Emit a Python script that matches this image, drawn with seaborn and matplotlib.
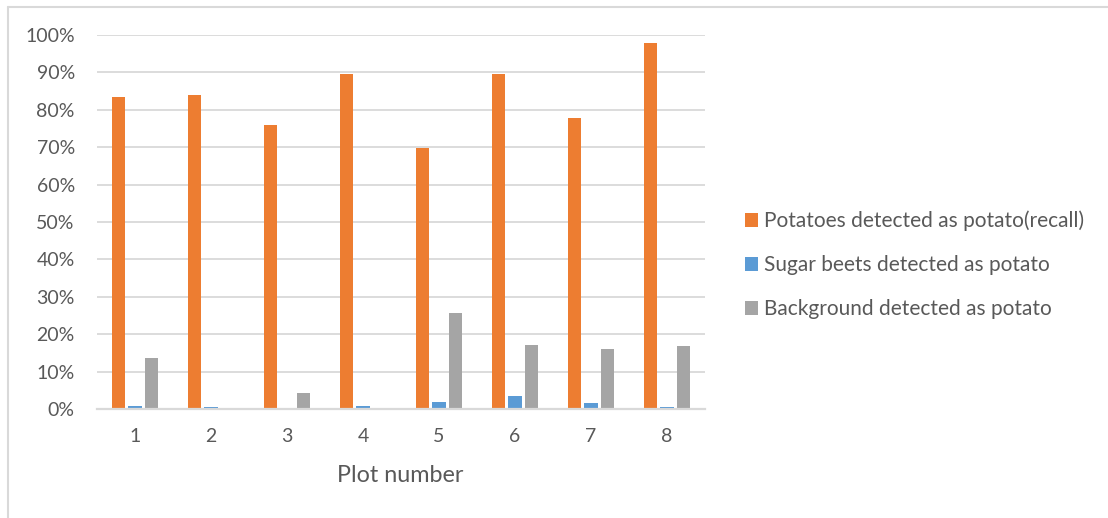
import matplotlib
matplotlib.use("Agg")
import matplotlib.pyplot as plt
import matplotlib.lines as mlines
import seaborn as sns
import pandas as pd

plots = ["1", "2", "3", "4", "5", "6", "7", "8"]
series_names = [
    "Potatoes detected as potato(recall)",
    "Sugar beets detected as potato",
    "Background detected as potato",
]
recall = [83.3, 83.9, 75.9, 89.7, 69.8, 89.6, 77.8, 97.9]
beets = [0.7, 0.6, 0.3, 0.8, 1.9, 3.4, 1.6, 0.5]
background = [13.7, 0.0, 4.3, 0.0, 25.8, 17.0, 16.0, 16.9]
colors = ["#ED7D31", "#5B9BD5", "#A5A5A5"]

rows = []
for name, vals in zip(series_names, [recall, beets, background]):
    for p, v in zip(plots, vals):
        rows.append({"Plot number": p, "series": name, "value": v / 100})
df = pd.DataFrame(rows)

sns.set_theme(style="white")
plt.rcParams["font.family"] = ["Lato", "DejaVu Sans"]
text_color = "#595959"
grid_color = "#D9D9D9"

fig = plt.figure(figsize=(11.08, 5.18), dpi=100)
ax = fig.add_axes([97 / 1108, 1 - 409 / 518, 608 / 1108, 374 / 518])

sns.barplot(
    data=df, x="Plot number", y="value", hue="series",
    order=plots, hue_order=series_names, palette=colors,
    width=0.66, gap=0.2, saturation=1, errorbar=None,
    linewidth=0, ax=ax,
)

ax.set_ylim(0, 1)
ax.set_yticks([i / 10 for i in range(11)])
ax.set_yticklabels([f"{i * 10}%" for i in range(11)])
ax.set_xlim(-0.5, len(plots) - 0.5)
ax.yaxis.grid(True, color=grid_color, linewidth=1.3)
ax.set_axisbelow(True)
for side in ["top", "right", "left"]:
    ax.spines[side].set_visible(False)
ax.spines["bottom"].set_color(grid_color)
ax.spines["bottom"].set_linewidth(1.6)
ax.tick_params(axis="both", length=0, labelsize=14, colors=text_color)
ax.tick_params(axis="y", pad=16)
ax.tick_params(axis="x", pad=14)

ax.set_ylabel("")
ax.set_xlabel("Plot number", fontsize=16.8, color=text_color)
ax.xaxis.label.set_va("center")
ax.xaxis.set_label_coords((400 - 97) / 608, (409 - 476) / 374)

handles, labels = ax.get_legend_handles_labels()
ax.legend(
    handles, labels, loc="center left",
    bbox_to_anchor=(745 / 1108, 1 - 265 / 518), bbox_transform=fig.transFigure,
    frameon=False, fontsize=15, labelcolor=text_color,
    handlelength=0.6, handleheight=0.6, handletextpad=0.3,
    labelspacing=1.15, borderpad=0, borderaxespad=0,
)

# chart border (top and left edges)
fig.add_artist(mlines.Line2D([8 / 1108, 1], [1 - 7 / 518, 1 - 7 / 518],
                             transform=fig.transFigure, color=grid_color, linewidth=1.5))
fig.add_artist(mlines.Line2D([8 / 1108, 8 / 1108], [0, 1 - 7 / 518],
                             transform=fig.transFigure, color=grid_color, linewidth=1.5))

fig.savefig("out.png", dpi=100)
